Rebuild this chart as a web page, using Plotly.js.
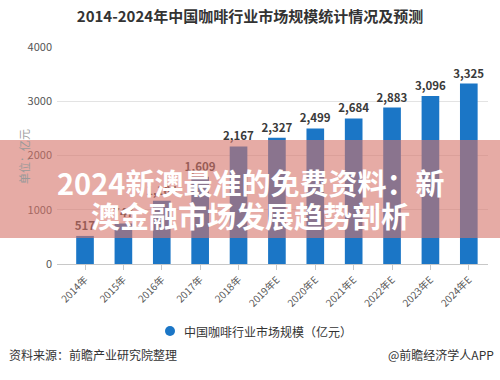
<!DOCTYPE html>
<html>
<head>
<meta charset="utf-8">
<script src="https://cdn.plot.ly/plotly-3.0.1.min.js"></script>
<style>html,body{margin:0;padding:0;background:#fff;}#chart{width:500px;height:380px;}</style>
</head>
<body>
<div id="chart"></div>
<script>
const years = ['2014年','2015年','2016年','2017年','2018年','2019年E','2020年E','2021年E','2022年E','2023年E','2024年E'];
const marketSize = [517, 747, 1164, 1609, 2167, 2327, 2499, 2684, 2883, 3096, 3325];
const seriesName = '中国咖啡行业市场规模（亿元）';
const chartTitle = '2014-2024年中国咖啡行业市场规模统计情况及预测';
const yUnit = '单位：亿元';
const sourceText = '资料来源：前瞻产业研究院整理';
const brandText = '@前瞻经济学人APP';
const overlayLine1 = '2024新澳最准的免费资料：新';
const overlayLine2 = '澳金融市场发展趋势剖析';

const CJK = '"Noto Sans CJK SC", "Noto Sans", sans-serif';
const L = 57, R = 488, T = 47, B = 264;
const px = x => (x - L) / (R - L);
const py = y => (B - y) / (B - T);

const trace = {
  type: 'bar',
  x: years,
  y: marketSize,
  name: seriesName,
  marker: {color: '#1b76c6'},
  width: 0.46,
  texttemplate: '%{y:,}',
  textposition: 'outside',
  constraintext: 'none',
  cliponaxis: false,
  textfont: {family: CJK, size: 11.5, color: '#3a3a3a', weight: 600},
  showlegend: false,
  hoverinfo: 'x+y'
};

const layout = {
  width: 500, height: 380,
  margin: {l: L, r: 500 - R, t: T, b: 380 - B},
  paper_bgcolor: '#fff', plot_bgcolor: '#fff',
  font: {family: CJK, color: '#555'},
  title: {text: chartTitle, font: {family: CJK, size: 15, color: '#333', weight: 'bold'},
          x: 0.5, xanchor: 'center', y: 1 - 17/380, yanchor: 'middle', yref: 'container'},
  bargap: 0.5,
  xaxis: {
    type: 'category', range: [-0.73, 10.5], tickangle: -45,
    tickfont: {family: CJK, size: 10, color: '#555'},
    showline: true, linecolor: '#c8c8c8', linewidth: 1,
    ticks: 'outside', ticklen: 5, tickcolor: '#c8c8c8',
    showgrid: false, fixedrange: true
  },
  yaxis: {
    range: [0, 4000], tickvals: [0, 1000, 2000, 3000, 4000],
    tickfont: {family: CJK, size: 11, color: '#555'},
    showgrid: true, gridcolor: '#e3e3e3', zeroline: false, showline: false,
    ticklabelstandoff: 4, fixedrange: true
  },
  shapes: [
    {type: 'circle', xref: 'paper', yref: 'paper', xsizemode: 'pixel', ysizemode: 'pixel',
     xanchor: px(170), yanchor: py(331), x0: -5, x1: 5, y0: -5, y1: 5,
     fillcolor: '#1b76c6', line: {width: 0}},
    {type: 'rect', xref: 'paper', yref: 'paper', layer: 'above',
     x0: px(0), x1: px(500), y0: py(238), y1: py(140),
     fillcolor: 'rgba(213,115,105,0.6)', line: {width: 0}}
  ],
  annotations: [
    {xref: 'paper', yref: 'paper', x: px(14), y: py(157), text: yUnit, textangle: -90,
     showarrow: false, font: {family: CJK, size: 11, color: '#999'}},
    {xref: 'paper', yref: 'paper', x: px(182), y: py(331), xanchor: 'left', yanchor: 'middle',
     text: seriesName, showarrow: false, font: {family: CJK, size: 12, color: '#333'}},
    {xref: 'paper', yref: 'paper', x: px(7), y: py(354), xanchor: 'left', yanchor: 'middle',
     text: sourceText, showarrow: false, font: {family: CJK, size: 12, color: '#333'}},
    {xref: 'paper', yref: 'paper', x: px(496), y: py(354), xanchor: 'right', yanchor: 'middle',
     text: brandText, showarrow: false, font: {family: CJK, size: 12, color: '#333'}},
    {xref: 'paper', yref: 'paper', x: px(250), y: py(182), xanchor: 'center', yanchor: 'middle',
     text: overlayLine1, showarrow: false, font: {family: CJK, size: 29, color: '#fff', weight: 'bold'}},
    {xref: 'paper', yref: 'paper', x: px(250), y: py(215), xanchor: 'center', yanchor: 'middle',
     text: overlayLine2, showarrow: false, font: {family: CJK, size: 29, color: '#fff', weight: 'bold'}}
  ]
};

Plotly.newPlot('chart', [trace], layout, {displayModeBar: false, staticPlot: true});
</script>
</body>
</html>
